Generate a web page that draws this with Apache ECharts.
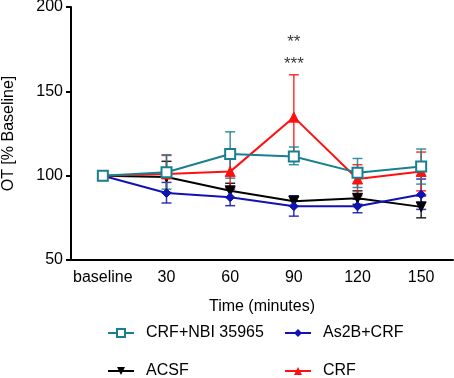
<!DOCTYPE html>
<html>
<head>
<meta charset="utf-8">
<script src="https://cdn.jsdelivr.net/npm/echarts@6/dist/echarts.min.js"></script>
<style>
  html, body { margin: 0; padding: 0; background: #fff; }
  #chart { width: 454px; height: 378px; }
</style>
</head>
<body>
<div id="chart"></div>
<script>
// x categories
var categories = ["baseline", "30", "60", "90", "120", "150"];
var yTicks = [50, 100, 150, 200];

// means
var nbiMean  = [100, 102, 112.8, 111.4, 101.8, 105.5];
var as2bMean = [100, 89.7, 87.2, 81.9, 81.9, 88.8];
var acsfMean = [100, 99.2, 91, 84.8, 86.6, 81.5];
var crfMean  = [100, 101, 102.4, 134.7, 98, 102.5];

// error bar ends (low / high), null = no bar
var nbiLow   = [null, 92, 98.5, 106.5, 93, 95];
var nbiHigh  = [null, 112.4, 126, 117, 110.2, 115.8];
var as2bLow  = [null, 83.8, 82.2, 76, 78, 80];
var as2bHigh = [null, 96, 92, 88, 86, 98];
var acsfLow  = [null, 90, 87, 82, 83, 75];
var acsfHigh = [null, 108.5, 95.5, 88, 91, 88];
var crfLow   = [null, 90, 93, 110, 88, 91];
var crfHigh  = [null, 112, 110, 159.8, 106.5, 114];

// significance marks above 90 min
var annotCats = ["90", "90"];
var annotVals = [179, 166];
var annotText = ["**", "***"];

var teal = "#17808f", blue = "#1212b4", black = "#000000", red = "#ff1010";

var chart = echarts.init(document.getElementById("chart"));

function errSeries(name, low, high, color, z) {
  var data = [];
  for (var i = 0; i < categories.length; i++) {
    if (low[i] != null) data.push([categories[i], low[i], high[i]]);
  }
  return {
    name: name,
    type: "custom",
    z: z,
    silent: true,
    renderItem: function (params, api) {
      var x = api.value(0);
      var lo = api.coord([x, api.value(1)]);
      var hi = api.coord([x, api.value(2)]);
      var w = 5;
      var st = { stroke: color, lineWidth: 1.5, opacity: 0.85 };
      return {
        type: "group",
        children: [
          { type: "line", shape: { x1: lo[0], y1: lo[1], x2: hi[0], y2: hi[1] }, style: st },
          { type: "line", shape: { x1: lo[0] - w, y1: lo[1], x2: lo[0] + w, y2: lo[1] }, style: st },
          { type: "line", shape: { x1: hi[0] - w, y1: hi[1], x2: hi[0] + w, y2: hi[1] }, style: st }
        ]
      };
    },
    encode: { x: 0, y: [1, 2] },
    data: data
  };
}

function lineSeries(name, data, color, symbol, size, z, extra) {
  var s = {
    name: name,
    type: "line",
    z: z,
    data: data,
    symbol: symbol,
    symbolSize: size,
    showAllSymbol: true,
    color: color,
    lineStyle: { color: color, width: 2 },
    itemStyle: { color: color, borderColor: color },
    emphasis: { disabled: true }
  };
  for (var k in extra) s[k] = extra[k];
  return s;
}

var font = "Liberation Sans, Arial, sans-serif";

function oneLegend(name, left, top) {
  return {
    orient: "horizontal",
    left: left,
    top: top,
    itemWidth: 26,
    itemHeight: 10,
    padding: 0,
    textStyle: { fontSize: 16, color: "#000", fontFamily: font, padding: [0, 0, 0, 7] },
    data: [name]
  };
}

var option = {
  animation: false,
  backgroundColor: "#fff",
  grid: { left: 71, right: 1, top: 7, bottom: 118, containLabel: false, outerBoundsMode: "none" },
  xAxis: {
    type: "category",
    data: categories,
    boundaryGap: true,
    name: "Time (minutes)",
    nameLocation: "middle",
    nameGap: 39,
    nameTextStyle: { fontSize: 16, color: "#000", fontFamily: font },
    axisLine: { lineStyle: { color: "#000", width: 2 } },
    axisTick: { alignWithLabel: true, interval: 0, length: 5, lineStyle: { color: "#000", width: 2 } },
    axisLabel: { interval: 0, fontSize: 16, color: "#000", fontFamily: font, margin: 10 },
    splitLine: { show: false }
  },
  yAxis: {
    type: "value",
    min: yTicks[0],
    max: yTicks[yTicks.length - 1],
    interval: yTicks[1] - yTicks[0],
    name: "OT [% Baseline]",
    nameLocation: "middle",
    nameGap: 54,
    nameTextStyle: { fontSize: 16, color: "#000", fontFamily: font },
    axisLine: { show: true, lineStyle: { color: "#000", width: 2 } },
    axisTick: { show: true, length: 5, lineStyle: { color: "#000", width: 2 } },
    axisLabel: { fontSize: 16, color: "#000", fontFamily: font, margin: 8 },
    splitLine: { show: false }
  },
  legend: [
    oneLegend("CRF+NBI 35965", 107, 325),
    oneLegend("As2B+CRF", 284, 325),
    oneLegend("ACSF", 107, 363),
    oneLegend("CRF", 284, 363)
  ],
  series: [
    errSeries("acsfErr", acsfLow, acsfHigh, black, 2),
    errSeries("as2bErr", as2bLow, as2bHigh, blue, 2),
    errSeries("crfErr", crfLow, crfHigh, red, 2),
    errSeries("nbiErr", nbiLow, nbiHigh, teal, 2),
    lineSeries("ACSF", acsfMean, black, "triangle", 10, 3, { symbolRotate: 180 }),
    lineSeries("As2B+CRF", as2bMean, blue, "diamond", 9, 4, {}),
    lineSeries("CRF", crfMean, red, "triangle", 10, 5, {}),
    lineSeries("CRF+NBI 35965", nbiMean, teal, "emptyRect", 10, 6, {
      itemStyle: { color: teal, borderColor: teal, borderWidth: 2 }
    }),
    {
      name: "annot",
      type: "scatter",
      symbol: "circle",
      symbolSize: 1,
      silent: true,
      itemStyle: { color: "rgba(0,0,0,0)" },
      data: annotCats.map(function (c, i) { return { value: [c, annotVals[i]], label: { formatter: annotText[i] } }; }),
      label: { show: true, position: "inside", fontSize: 17, color: "#000", fontFamily: font }
    }
  ]
};

chart.setOption(option);
</script>
</body>
</html>
